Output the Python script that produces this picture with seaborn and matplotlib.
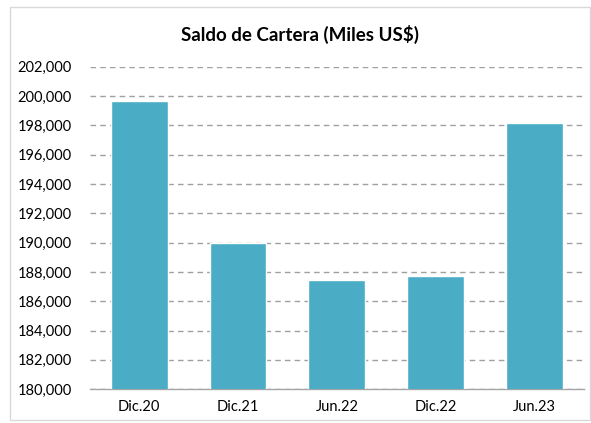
import matplotlib
matplotlib.use("Agg")
import matplotlib.pyplot as plt
import matplotlib.patches as mpatches
import seaborn as sns
import pandas as pd

# Datos
periodos = ["Dic.20", "Dic.21", "Jun.22", "Dic.22", "Jun.23"]
saldo = [199700, 190000, 187450, 187700, 198180]

df = pd.DataFrame({"periodo": periodos, "saldo": saldo})

sns.set_theme(style="white")
plt.rcParams['font.family'] = ['Lato', 'DejaVu Sans']

fig = plt.figure(figsize=(5.91, 4.23), dpi=100)
ax = fig.add_axes([0.152, 0.080, 0.836, 0.762])

sns.barplot(data=df, x="periodo", y="saldo", color="#4BACC6", width=0.575,
            saturation=1, ax=ax, zorder=3)

ax.set_ylim(180000, 202000)
ax.set_yticks(range(180000, 202001, 2000))
ax.set_yticklabels([f"{v:,}" for v in range(180000, 202001, 2000)], fontsize=10.5, color="#000000")
ax.tick_params(axis="x", labelsize=10.5, colors="#000000", pad=8)
ax.tick_params(axis="y", length=0, pad=13)
ax.set_xlabel("")
ax.set_ylabel("")

ax.yaxis.grid(True, linestyle=(0, (4, 3)), color="#A0A0A0", linewidth=1, zorder=0)
ax.set_axisbelow(True)
for s in ["top", "right", "left"]:
    ax.spines[s].set_visible(False)
ax.spines["bottom"].set_color("#A6A6A6")
ax.spines["bottom"].set_linewidth(1)
ax.tick_params(axis="x", length=0)

fig.text(0.508, 0.918, "Saldo de Cartera (Miles US$)", ha="center", va="center",
         fontsize=13.5, fontweight="bold", color="#000000")

# marco del gráfico
fig.patches.append(mpatches.Rectangle((10 / 591, 3 / 423), 580 / 591, 413 / 423,
                                      transform=fig.transFigure, fill=False,
                                      edgecolor="#D9D9D9", linewidth=1))

fig.savefig("out.png", dpi=100)
